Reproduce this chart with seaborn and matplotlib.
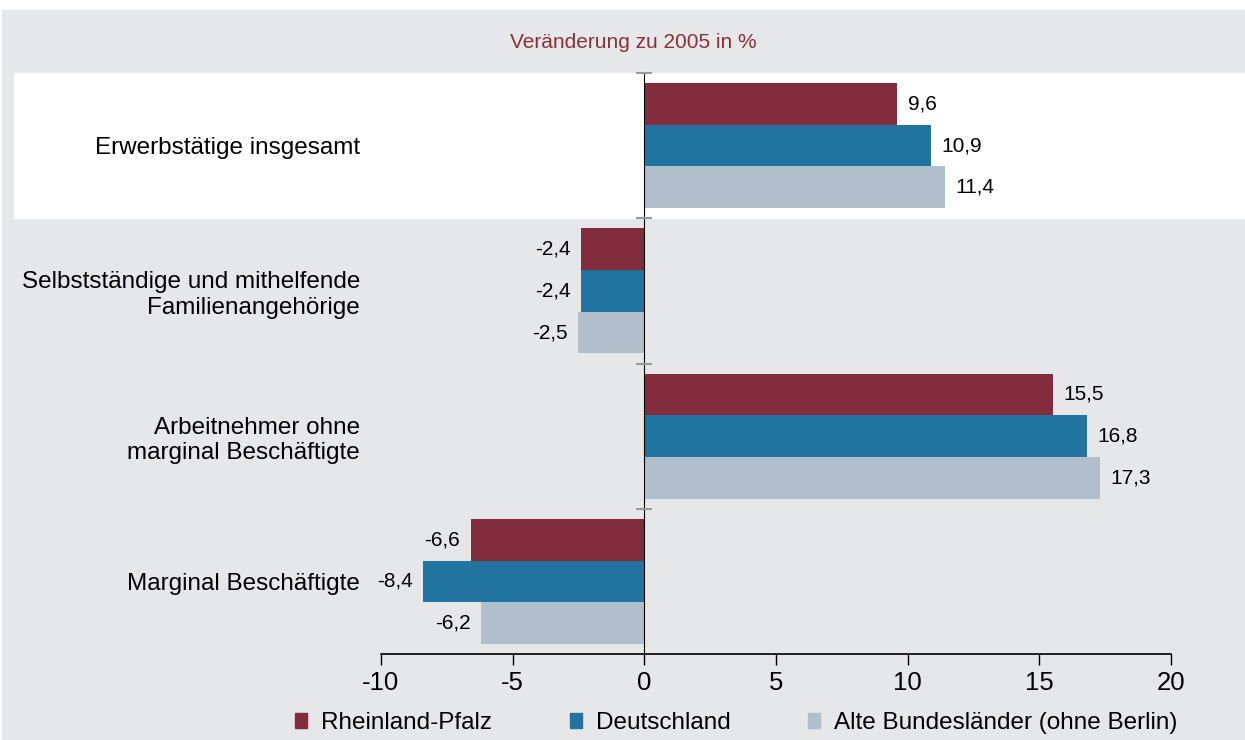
import matplotlib
matplotlib.use("Agg")
import matplotlib.pyplot as plt
import matplotlib.patches as mpatches
import matplotlib.transforms as mtransforms
import numpy as np
import pandas as pd
import seaborn as sns

# data
categories = [
    "Erwerbstätige insgesamt",
    "Selbstständige und mithelfende\nFamilienangehörige",
    "Arbeitnehmer ohne\nmarginal Beschäftigte",
    "Marginal Beschäftigte",
]
regions = ["Rheinland-Pfalz", "Deutschland", "Alte Bundesländer (ohne Berlin)"]
rlp = [9.6, -2.4, 15.5, -6.6]
de = [10.9, -2.4, 16.8, -8.4]
abl = [11.4, -2.5, 17.3, -6.2]
xticks = [-10, -5, 0, 5, 10, 15, 20]
colors = ["#822D3D", "#2274A0", "#B1BFCC"]
bg = "#E6E7E9"

df = pd.DataFrame({
    "Kategorie": categories * 3,
    "Region": [r for r in regions for _ in categories],
    "Wert": rlp + de + abl,
})

sns.set_theme(style="white")
plt.rcParams["font.family"] = ["Liberation Sans", "DejaVu Sans"]
plt.rcParams["text.color"] = "black"
plt.rcParams["xtick.labelcolor"] = "black"
plt.rcParams["ytick.labelcolor"] = "black"

fig = plt.figure(figsize=(12.45, 7.4), dpi=100)
fig.patch.set_facecolor("white")
fig.add_artist(mpatches.Rectangle((2 / 1245, 0), 1, 1 - 10 / 740,
                                  transform=fig.transFigure, color=bg, zorder=-10))

ax = fig.add_axes([381 / 1245, 1 - 654 / 740, 790 / 1245, 581 / 740])
ax.set_facecolor("none")

# white band behind first category
trans = mtransforms.blended_transform_factory(fig.transFigure, ax.transData)
fig.add_artist(mpatches.Rectangle((14 / 1245, -0.5), 1, 1, transform=trans,
                                  color="white", zorder=-5))

sns.barplot(data=df, y="Kategorie", x="Wert", hue="Region", palette=colors,
            orient="h", width=0.86, dodge=True, legend=False, ax=ax,
            saturation=1, edgecolor="none")

for cont in ax.containers:
    for bar in cont:
        v = bar.get_width()
        yc = bar.get_y() + bar.get_height() / 2
        txt = f"{v:.1f}".replace(".", ",")
        if v >= 0:
            ax.annotate(txt, (v, yc), xytext=(7.5, 0), textcoords="offset points",
                        ha="left", va="center", fontsize=15)
        else:
            ax.annotate(txt, (v, yc), xytext=(-7.5, 0), textcoords="offset points",
                        ha="right", va="center", fontsize=15)

ax.set_xlim(-10, 20)
ax.set_ylim(len(categories) - 0.5, -0.5)
ax.set_xticks(xticks)
ax.set_xticklabels([str(t) for t in xticks])
ax.set_xlabel("")
ax.set_ylabel("")
ax.tick_params(axis="x", direction="out", length=8, width=1, color="black",
               labelsize=18.5, pad=4, bottom=True)
ax.tick_params(axis="y", length=0, labelsize=17.5, pad=15)
for s in ["top", "right", "left"]:
    ax.spines[s].set_visible(False)
ax.spines["bottom"].set_color("black")
ax.spines["bottom"].set_linewidth(1.2)

ax.axvline(0, color="black", lw=0.8, zorder=3)
bounds = np.arange(len(categories)) - 0.5
ax.plot(np.zeros(len(bounds)), bounds, ls="none", marker="_", ms=12,
        mew=1.5, color="#9A9A9A", clip_on=False, zorder=4)

fig.text(633 / 1245, 1 - 43 / 740, "Veränderung zu 2005 in %", ha="center",
         va="center", fontsize=15, color="#8B2F3E")

# legend entries sit at fixed positions in the reference
legend_x = [295, 570, 808]
for c, r, lx in zip(colors, regions, legend_x):
    fig.legend(handles=[mpatches.Patch(color=c, label=r)], loc="center left",
               bbox_to_anchor=(lx / 1245, 1 - 723 / 740), frameon=False,
               fontsize=17.5, handlelength=0.5, handleheight=0.55,
               handletextpad=0.55, borderpad=0, borderaxespad=0)

fig.savefig("out.png", dpi=100, facecolor=fig.get_facecolor())
